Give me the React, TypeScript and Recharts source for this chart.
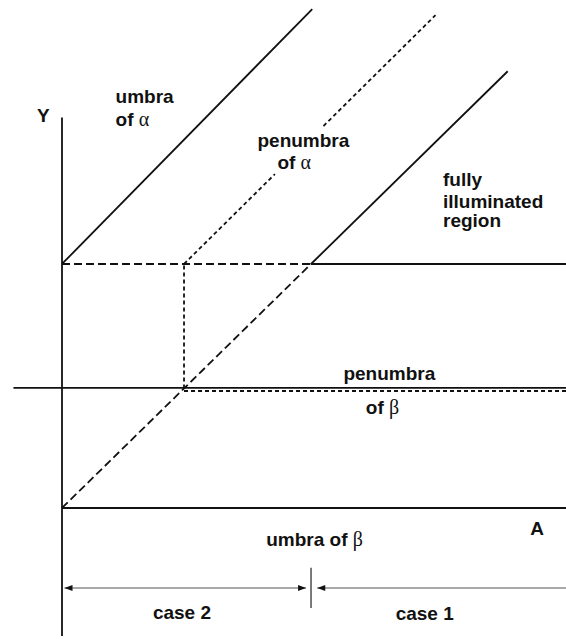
import React from 'react';
import { ComposedChart, Line, Scatter, XAxis, YAxis } from 'recharts';

// data units: origin where the vertical axis meets the A line; the corner is at (2, 2)
const yAxisLine = [{ x: 0, y: -1.05 }, { x: 0, y: 3.2 }];
const umbraAlpha = [{ x: 0, y: 2 }, { x: 2.01, y: 4.09 }];
// penumbra of alpha is broken where its label sits
const penumbraAlphaLow = [{ x: 0.98, y: 2 }, { x: 1.71, y: 2.737 }];
const penumbraAlphaHigh = [{ x: 2.1, y: 3.131 }, { x: 3.0, y: 4.04 }];
const litEdge = [{ x: 2, y: 2 }, { x: 3.58, y: 3.58 }];
const diagonal = [{ x: 0, y: 0 }, { x: 2, y: 2 }];
const dropLine = [{ x: 0.98, y: 0.98 }, { x: 0.98, y: 2 }];
const upperDashed = [{ x: 0, y: 2 }, { x: 2, y: 2 }];
const upperSolid = [{ x: 2, y: 2 }, { x: 4.05, y: 2 }];
const betaSolid = [{ x: -0.39, y: 0.984 }, { x: 4.05, y: 0.984 }];
const betaDotted = [{ x: 0.98, y: 0.959 }, { x: 4.05, y: 0.959 }];
const aLine = [{ x: 0, y: 0 }, { x: 4.05, y: 0 }];
const case2Arrow = [{ x: 0.02, y: -0.656 }, { x: 1.96, y: -0.656 }];
const case1Arrow = [{ x: 2.05, y: -0.656 }, { x: 4.05, y: -0.656 }];
const splitTick = [{ x: 2.0, y: -0.49 }, { x: 2.0, y: -0.82 }];

const arrowTips = [
  { x: 0.02, y: -0.656, dir: -1 },
  { x: 1.96, y: -0.656, dir: 1 },
  { x: 2.05, y: -0.656, dir: -1 },
];

const labels = [
  { x: -0.2, y: 3.16, text: 'Y' },
  { x: 0.43, y: 3.32, text: 'umbra' },
  { x: 0.43, y: 3.13, text: 'of ', greek: 'α' },
  { x: 1.57, y: 2.962, text: 'penumbra' },
  { x: 1.73, y: 2.776, text: 'of ', greek: 'α' },
  { x: 3.06, y: 2.64, text: 'fully' },
  { x: 3.06, y: 2.46, text: 'illuminated' },
  { x: 3.06, y: 2.3, text: 'region' },
  { x: 2.26, y: 1.05, text: 'penumbra' },
  { x: 2.44, y: 0.77, text: 'of ', greek: 'β' },
  { x: 3.76, y: -0.22, text: 'A' },
  { x: 1.64, y: -0.31, text: 'umbra of ', greek: 'β' },
  { x: 0.73, y: -0.91, text: 'case 2' },
  { x: 2.68, y: -0.92, text: 'case 1' },
];

const xDomain = [-0.498, 4.048];
const yDomain = [-1.074, 4.164];

const solid = { stroke: '#111', strokeWidth: 1.8 };
const dashed = { stroke: '#111', strokeWidth: 1.8, strokeDasharray: '8 4' };
const dotted = { stroke: '#111', strokeWidth: 1.8, strokeDasharray: '4 3' };
const thin = { stroke: '#555', strokeWidth: 1 };

const segments = [
  { data: yAxisLine, style: solid },
  { data: umbraAlpha, style: solid },
  { data: penumbraAlphaLow, style: dotted },
  { data: penumbraAlphaHigh, style: dotted },
  { data: litEdge, style: solid },
  { data: diagonal, style: dashed },
  { data: dropLine, style: dotted },
  { data: upperDashed, style: dashed },
  { data: upperSolid, style: solid },
  { data: betaSolid, style: solid },
  { data: betaDotted, style: dotted },
  { data: aLine, style: solid },
  { data: case2Arrow, style: thin },
  { data: case1Arrow, style: thin },
  { data: splitTick, style: { stroke: '#333', strokeWidth: 1.3 } },
];

const Label = (props: any) => {
  const { cx, cy, payload } = props;
  return (
    <text
      x={cx}
      y={cy}
      fontFamily="'Liberation Sans', Arial, sans-serif"
      fontWeight="bold"
      fontSize={19}
      fill="#111"
    >
      {payload.text}
      {payload.greek && (
        <tspan fontFamily="'Liberation Serif', serif" fontWeight="normal" fontSize={20}>
          {payload.greek}
        </tspan>
      )}
    </text>
  );
};

const ArrowHead = (props: any) => {
  const { cx, cy, payload } = props;
  const d = payload.dir;
  const pts = `${cx},${cy} ${cx - d * 8},${cy - 3} ${cx - d * 8},${cy + 3}`;
  return <polygon points={pts} fill="#111" />;
};

export default function App() {
  return (
    <div style={{ position: 'absolute', left: 0, top: 0, width: 566, height: 639, background: '#fff' }}>
      <ComposedChart width={566} height={639} margin={{ top: 0, right: 0, bottom: 0, left: 0 }}>
        <XAxis type="number" dataKey="x" domain={xDomain} allowDataOverflow hide />
        <YAxis type="number" dataKey="y" domain={yDomain} allowDataOverflow hide />
        {segments.map((s, i) => (
          <Line
            key={i}
            data={s.data}
            dataKey="y"
            type="linear"
            dot={false}
            activeDot={false}
            isAnimationActive={false}
            {...s.style}
          />
        ))}
        <Scatter data={arrowTips} shape={ArrowHead} isAnimationActive={false} />
        <Scatter data={labels} shape={Label} isAnimationActive={false} />
      </ComposedChart>
    </div>
  );
}
